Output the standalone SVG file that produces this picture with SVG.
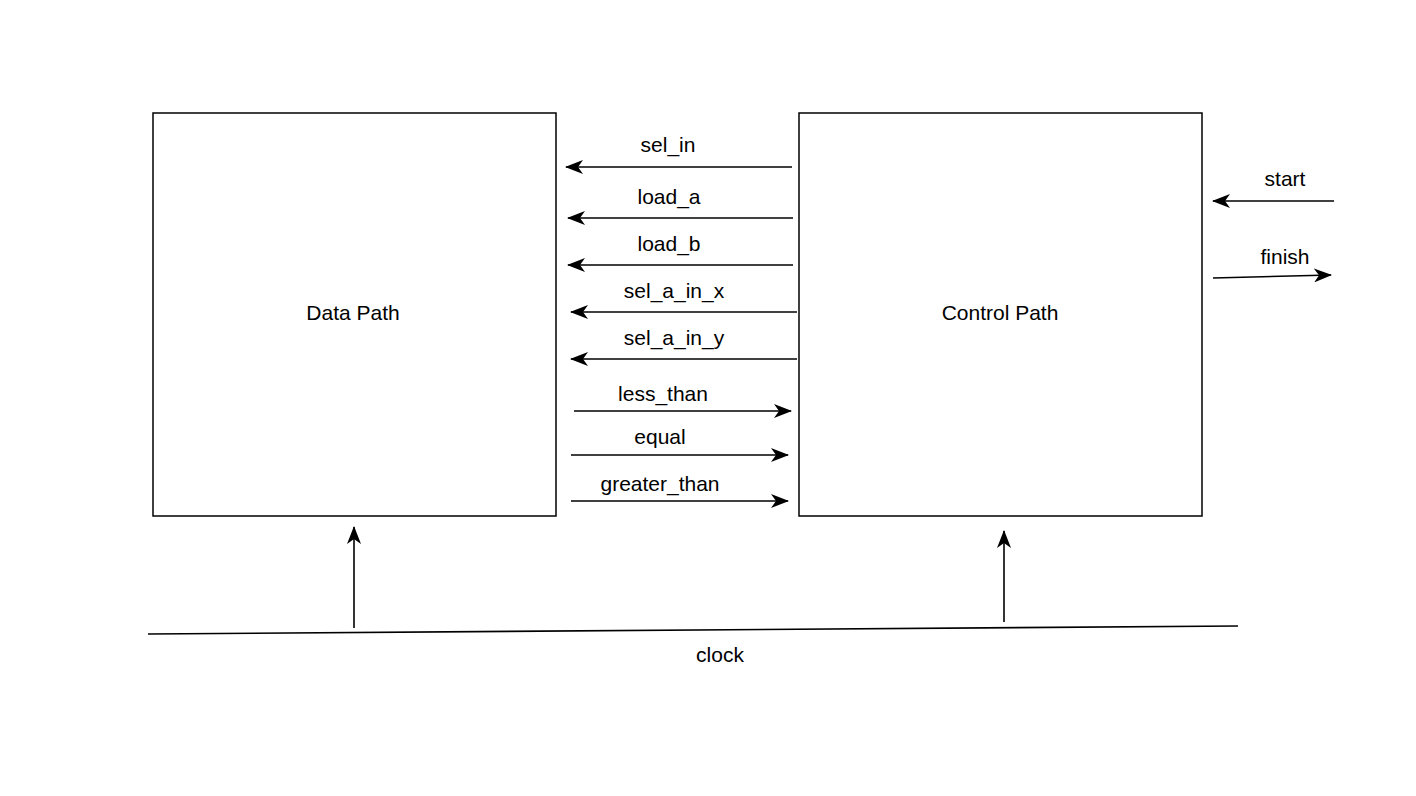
<svg xmlns="http://www.w3.org/2000/svg" width="1416" height="796" viewBox="0 0 1416 796">
<style>
.box{fill:#fff;stroke:#000;stroke-width:1.5}
.ln{fill:none;stroke:#000;stroke-width:1.6}
.ar{marker-end:url(#ah)}
text{font-family:"Liberation Sans",Arial,sans-serif;font-size:21px;fill:#000;text-anchor:middle}
</style>
<defs>
<marker id="ah" viewBox="0 0 18 14" refX="17" refY="7" markerWidth="18" markerHeight="14" markerUnits="userSpaceOnUse" orient="auto">
<path d="M0,0 L18,7 L0,14 L5,7 Z" fill="#000"/>
</marker>
</defs>
<rect width="1416" height="796" fill="#fff"/>
<g id="data-path">
<rect class="box" x="153" y="113" width="403" height="403"/>
<text x="353" y="320">Data Path</text>
</g>
<g id="control-path">
<rect class="box" x="799" y="113" width="403" height="403"/>
<text x="1000" y="320">Control Path</text>
</g>
<g id="clock">
<line class="ln" x1="148" y1="634" x2="1238" y2="626"/>
<text x="720" y="662">clock</text>
</g>
<g id="connectors">
<line class="ln ar" x1="792" y1="167" x2="566" y2="167"/>
<line class="ln ar" x1="793" y1="218" x2="568" y2="218"/>
<line class="ln ar" x1="793" y1="265" x2="568" y2="265"/>
<line class="ln ar" x1="797" y1="312" x2="571" y2="312"/>
<line class="ln ar" x1="797" y1="359" x2="571" y2="359"/>
<line class="ln ar" x1="574" y1="411" x2="791" y2="411"/>
<line class="ln ar" x1="571" y1="455" x2="788" y2="455"/>
<line class="ln ar" x1="571" y1="501" x2="788" y2="501"/>
<line class="ln ar" x1="1334" y1="201" x2="1213" y2="201"/>
<line class="ln ar" x1="1213" y1="278" x2="1331" y2="275"/>
<line class="ln ar" x1="354" y1="628" x2="354" y2="527"/>
<line class="ln ar" x1="1004" y1="622" x2="1004" y2="531"/>
<text x="668" y="152">sel_in</text>
<text x="669" y="204">load_a</text>
<text x="669" y="251">load_b</text>
<text x="674" y="298">sel_a_in_x</text>
<text x="674" y="345">sel_a_in_y</text>
<text x="663" y="401">less_than</text>
<text x="660" y="444">equal</text>
<text x="660" y="491">greater_than</text>
<text x="1285" y="186">start</text>
<text x="1285" y="264">finish</text>
</g>
</svg>
